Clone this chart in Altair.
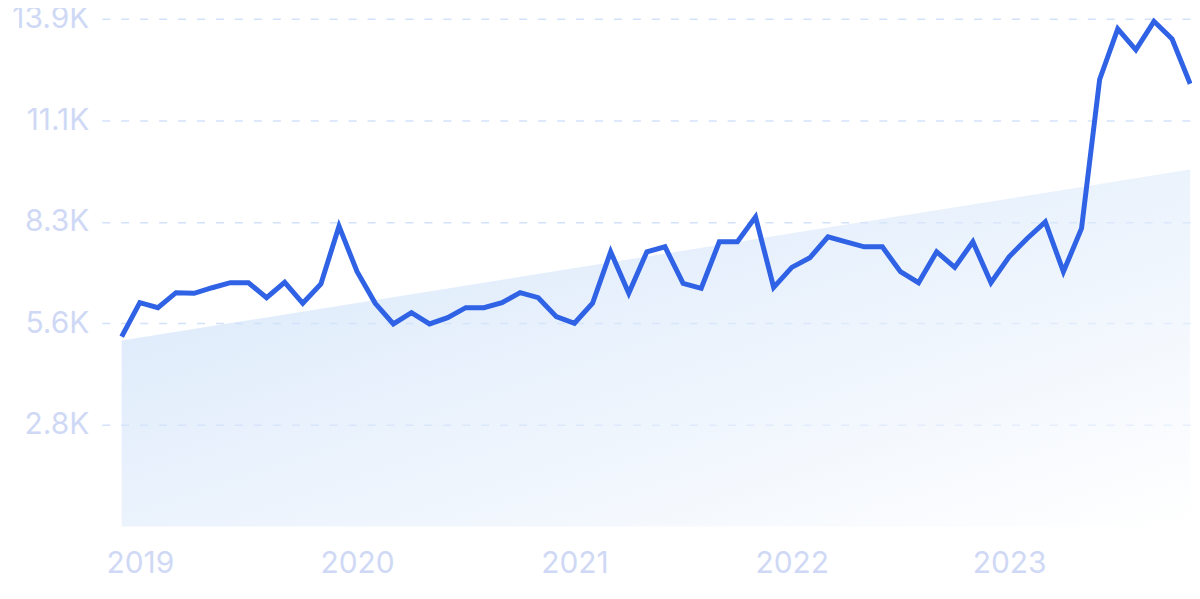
import altair as alt
import pandas as pd

# Monthly values, Dec 2018 .. Nov 2023
values = [5197, 6126, 5989, 6399, 6381, 6535, 6672, 6672, 6262, 6683, 6109, 6636,
          8220, 6973, 6109, 5544, 5853, 5544, 5716, 5989, 5989, 6126, 6399, 6262,
          5743, 5563, 6109, 7519, 6382, 7519, 7655, 6655, 6519, 7792, 7792, 8474,
          6546, 7092, 7355, 7928, 7792, 7655, 7655, 6973, 6672, 7519, 7092, 7792,
          6672, 7382, 7884, 8338, 6973, 8157, 12235, 13619, 13046, 13828, 13346, 12117]
month_index = list(range(len(values)))

# Trend line (start / end)
trend_x = [0, len(values) - 1]
trend_y = [5088, 9769]

# Axis ticks
year_ticks = [1, 13, 25, 37, 49]
year_labels = ["2019", "2020", "2021", "2022", "2023"]
y_ticks = [2780, 5560, 8340, 11120, 13900]
y_labels = ["2.8K", "5.6K", "8.3K", "11.1K", "13.9K"]

df = pd.DataFrame({"i": month_index, "v": values})
trend = pd.DataFrame({"i": trend_x, "v": trend_y})

x_label_expr = "{" + ",".join(f"'{t}':'{l}'" for t, l in zip(year_ticks, year_labels)) + "}[datum.value]"
y_label_expr = "{" + ",".join(f"'{t}':'{l}'" for t, l in zip(y_ticks, y_labels)) + "}[datum.value]"

label_color = "#cfd9f5"
font = "Inter"

x_enc = alt.X(
    "i:Q",
    scale=alt.Scale(domain=[-1.1, 59.1], nice=False, zero=False),
    axis=alt.Axis(
        values=year_ticks, labelExpr=x_label_expr, title=None, grid=False,
        domain=False, ticks=False, tickSize=0, labelPadding=22,
        labelFontSize=30, labelColor=label_color, labelFont=font,
    ),
)
y_scale = alt.Scale(domain=[0, 13900], nice=False)
y_axis = alt.Axis(
    values=y_ticks, labelExpr=y_label_expr, title=None, grid=True,
    gridDash=[8, 11], gridColor="#d3e2fb", gridWidth=1.5,
    domain=False, ticks=False, tickSize=0, labelPadding=13,
    labelFontSize=30, labelColor=label_color, labelFont=font,
)

area = alt.Chart(trend).mark_area(
    color=alt.Gradient(
        gradient="linear",
        stops=[alt.GradientStop(color="#bcd6f7", offset=0),
               alt.GradientStop(color="#ffffff", offset=1)],
        x1=0, y1=0, x2=1, y2=1,
    ),
    fillOpacity=0.6,
).encode(
    x=x_enc,
    y=alt.Y("v:Q", scale=y_scale, axis=y_axis),
)

line = alt.Chart(df).mark_line(color="#2f62e4", strokeWidth=5).encode(
    x=alt.X("i:Q"),
    y=alt.Y("v:Q"),
)

chart = alt.layer(area, line).properties(
    width=1093, height=509,
    padding={"left": 94, "top": 10, "right": 0, "bottom": 60},
    autosize=alt.AutoSizeParams(type="none"),
).configure_view(stroke=None)

chart.save("out.html", embed_options={"renderer": "svg", "actions": False})
